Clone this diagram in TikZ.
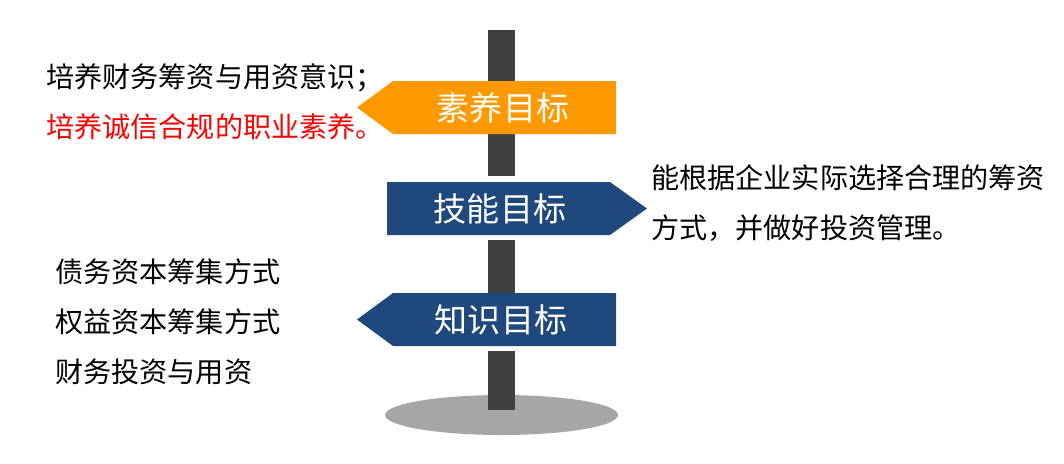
\documentclass[tikz,border=0pt]{standalone}
\usepackage{fontspec}
\setmainfont{Noto Sans CJK SC}
\usetikzlibrary{positioning}
\definecolor{signorange}{HTML}{FF9900}
\definecolor{signblue}{HTML}{1F497D}
\definecolor{poledark}{HTML}{404040}
\definecolor{basegray}{HTML}{A6A6A6}

\begin{document}
\begin{tikzpicture}[x=0.025cm,y=-0.025cm,
  signlabel/.style={text=white,font=\fontsize{23.5}{28}\selectfont,inner sep=0pt},
  goaltext/.style={align=left,anchor=west,inner sep=0pt,font=\fontsize{20}{35.5}\selectfont}
]
\useasboundingbox (0,0) rectangle (1064,463);
% base and post
\fill[basegray] (501.5,415) ellipse [x radius=116.5,y radius=20];
\foreach \ptop/\pbot in {30/176,240/346,351/410}
  \fill[poledark] (488,\ptop) rectangle (515,\pbot);
% signs
\fill[signorange] (357,107.5) -- (393,81) -- (616,81) -- (616,134) -- (393,134) -- cycle;
\fill[signblue] (387,182) -- (610,182) -- (647,208.5) -- (610,235) -- (387,235) -- cycle;
\fill[signblue] (357,319.5) -- (393,293) -- (616,293) -- (616,346) -- (393,346) -- cycle;
\node[signlabel] (suyang) at (503,107.5) {素养目标};
\node[signlabel] (jineng) at (500,208.5) {技能目标};
\node[signlabel] (zhishi) at (501,319.5) {知识目标};
% goal texts
\node[goaltext] (suyangtext) at (46,102) {培养财务筹资与用资意识；\\\textcolor{red}{培养诚信合规的职业素养。}};
\node[goaltext] (jinengtext) at (651,203) {能根据企业实际选择合理的筹资\\方式，并做好投资管理。};
\node[goaltext] (zhishitext) at (55,322) {债务资本筹集方式\\权益资本筹集方式\\财务投资与用资};
\end{tikzpicture}
\end{document}
